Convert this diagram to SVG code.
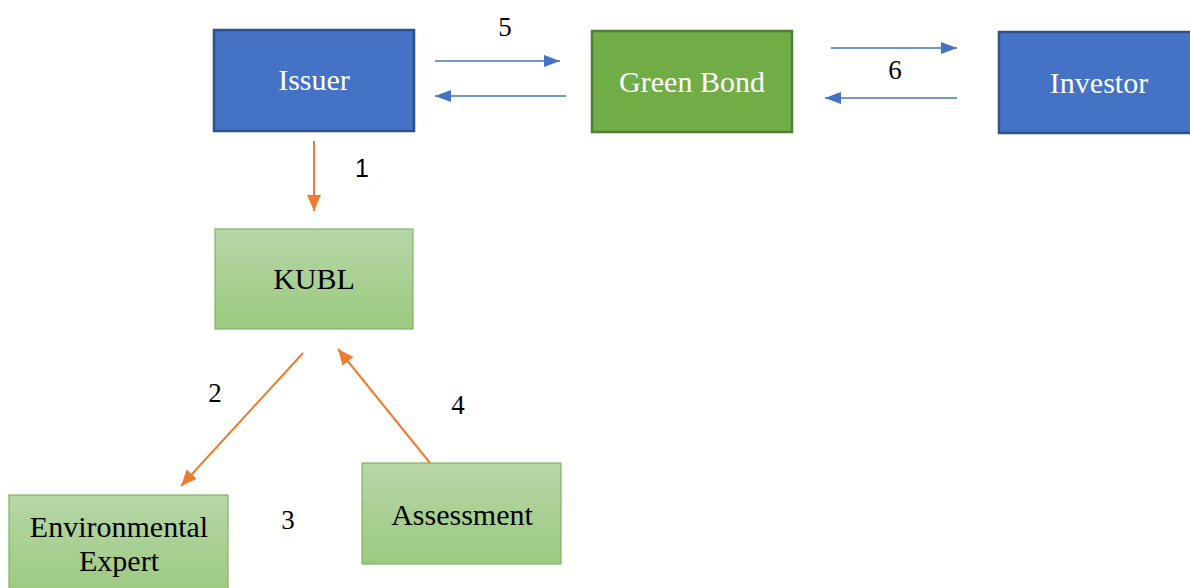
<svg xmlns="http://www.w3.org/2000/svg" width="1190" height="588" viewBox="0 0 1190 588">
<defs>
<linearGradient id="lg" x1="0" y1="0" x2="0" y2="1">
<stop offset="0" stop-color="#B6D7A8"/>
<stop offset="1" stop-color="#9CC97F"/>
</linearGradient>
<marker id="ab" markerUnits="userSpaceOnUse" markerWidth="16" markerHeight="12" refX="16" refY="6" orient="auto">
<path d="M0,0 L16,6 L0,12 Z" fill="#4472C4"/>
</marker>
<marker id="ao" markerUnits="userSpaceOnUse" markerWidth="16" markerHeight="14" refX="16" refY="7" orient="auto">
<path d="M0,0 L16,7 L0,14 Z" fill="#ED7D31"/>
</marker>
<style>
.t{font-family:"Liberation Serif",serif;font-size:30px;text-anchor:middle}
.w{fill:#FFFFFF}
.k{fill:#000000}
.n{font-family:"Liberation Serif",serif;font-size:27px;text-anchor:middle;fill:#000}
.blue{fill:#4472C4;stroke:#2F528F;stroke-width:2.5}
.green{fill:#70AD47;stroke:#507E32;stroke-width:2.5}
.lg{fill:url(#lg);stroke:#7FB45E;stroke-width:1.2}
.cb{stroke:#4472C4;stroke-width:1.6;fill:none;marker-end:url(#ab)}
.co{stroke:#ED7D31;stroke-width:2;fill:none;marker-end:url(#ao)}
</style>
</defs>
<rect width="1190" height="588" fill="#FFFFFF"/>
<g id="issuer"><rect class="blue" x="214" y="30" width="200" height="101"/><text class="t w" x="314" y="90">Issuer</text></g>
<g id="greenbond"><rect class="green" x="592" y="31" width="200" height="101"/><text class="t w" x="692" y="92">Green Bond</text></g>
<g id="investor"><rect class="blue" x="999" y="32" width="200" height="101"/><text class="t w" x="1099" y="93">Investor</text></g>
<g id="kubl"><rect class="lg" x="215" y="229" width="198" height="100"/><text class="t k" x="314" y="289">KUBL</text></g>
<g id="envexpert"><rect class="lg" x="9" y="495" width="219" height="100"/><text class="t k" x="119" y="537">Environmental</text><text class="t k" x="119" y="571">Expert</text></g>
<g id="assessment"><rect class="lg" x="362" y="463" width="199" height="101"/><text class="t k" x="462" y="525">Assessment</text></g>
<g id="connectors">
<line class="cb" x1="435" y1="61" x2="560" y2="61"/>
<line class="cb" x1="566" y1="96" x2="435" y2="96"/>
<line class="cb" x1="831" y1="48" x2="957" y2="48"/>
<line class="cb" x1="957" y1="98" x2="825" y2="98"/>
<line class="co" x1="314" y1="141" x2="314" y2="211"/>
<line class="co" x1="303" y1="353" x2="181" y2="486"/>
<line class="co" x1="430" y1="463" x2="338" y2="349"/>
</g>
<g id="labels">
<text class="n" x="505" y="36">5</text>
<text class="n" x="895" y="79">6</text>
<text x="362" y="177" style="font-family:'Liberation Sans',sans-serif;font-size:25px;text-anchor:middle;fill:#000">1</text>
<text class="n" x="215" y="402">2</text>
<text class="n" x="458" y="414">4</text>
<text class="n" x="288" y="529">3</text>
</g>
</svg>
